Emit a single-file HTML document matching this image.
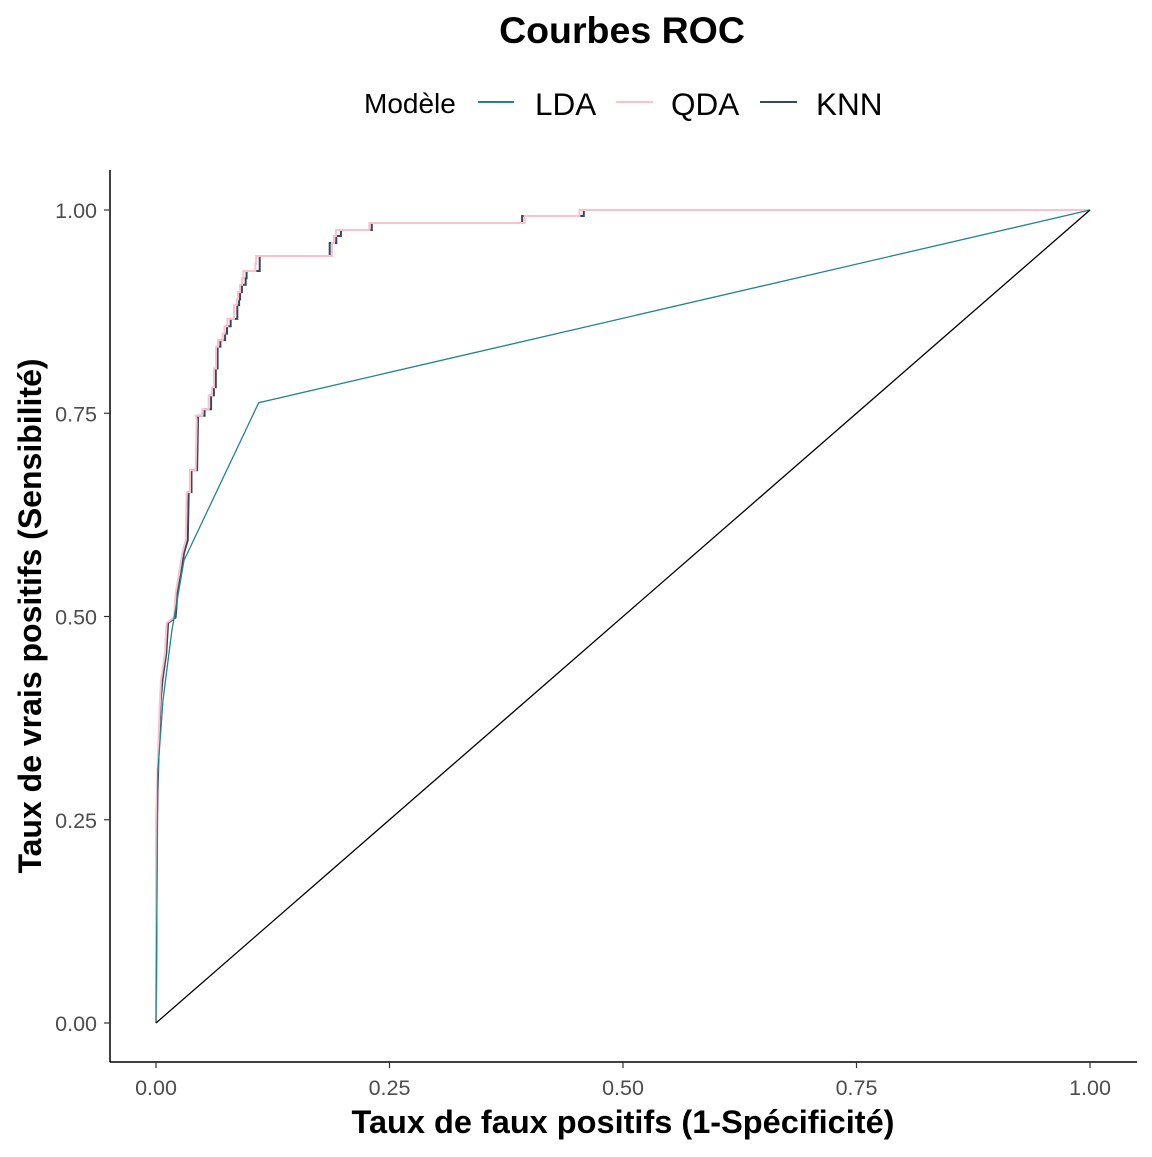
<!DOCTYPE html>
<html><head><meta charset="utf-8"><style>
body{margin:0;background:#fff}
svg text{font-family:"Liberation Sans",Arial,sans-serif}
</style></head><body>
<svg width="1152" height="1152" viewBox="0 0 1152 1152" xmlns="http://www.w3.org/2000/svg">
<rect width="1152" height="1152" fill="#fff"/>
<text x="622" y="43" text-anchor="middle" font-size="37.5" font-weight="bold">Courbes ROC</text>
<g>
<text x="364" y="113" font-size="28">Modèle</text>
<line x1="478" y1="102" x2="514" y2="102" stroke="#21858C" stroke-width="2"/>
<text x="535" y="115" font-size="31.5">LDA</text>
<line x1="616" y1="102" x2="653" y2="102" stroke="#FFC0CB" stroke-width="2"/>
<text x="671" y="115" font-size="31.5">QDA</text>
<line x1="760" y1="102" x2="797" y2="102" stroke="#34495E" stroke-width="2"/>
<text x="816" y="115" font-size="31.5">KNN</text>
</g>
<g id="plot"></g>
<text x="623" y="1133" text-anchor="middle" font-size="32.5" font-weight="bold">Taux de faux positifs (1-Spécificité)</text>
<text transform="translate(41,616) rotate(-90)" text-anchor="middle" font-size="32" font-weight="bold">Taux de vrais positifs (Sensibilité)</text>
</svg>
<script>
const xTicks=[0,0.25,0.5,0.75,1];
const xTickLabels=["0.00","0.25","0.50","0.75","1.00"];
const yTicks=[0,0.25,0.5,0.75,1];
const yTickLabels=["0.00","0.25","0.50","0.75","1.00"];
const ldaX=[0,0.002,0.0075,0.017,0.030,0.110,1];
const ldaY=[0,0.311,0.397,0.483,0.569,0.763,1];
const qdaX=[0,0,0.0014,0.0025,0.0043,0.0054,0.0096,0.0115,0.0193,0.0211,0.0246,0.0282,0.0318,0.0329,0.0364,0.0364,0.0425,0.0436,0.0425,0.0496,0.0496,0.0564,0.0564,0.060,0.060,0.0621,0.0621,0.0642,0.0642,0.0664,0.0664,0.0714,0.0714,0.0735,0.0735,0.0764,0.0764,0.0835,0.0835,0.0864,0.0864,0.0878,0.0878,0.0899,0.0899,0.0921,0.0921,0.0935,0.0935,0.1064,0.1064,0.1071,0.1071,0.1884,0.1884,0.1906,0.1906,0.1927,0.1927,0.2284,0.2284,0.3947,0.3947,0.4533,0.4533,1];
const qdaY=[0,0.25,0.299,0.339,0.397,0.422,0.455,0.492,0.499,0.529,0.553,0.578,0.594,0.653,0.653,0.680,0.680,0.742,0.747,0.747,0.755,0.755,0.772,0.772,0.782,0.782,0.805,0.805,0.832,0.832,0.840,0.840,0.848,0.848,0.857,0.857,0.866,0.866,0.883,0.883,0.890,0.890,0.899,0.899,0.908,0.908,0.916,0.916,0.925,0.925,0.934,0.934,0.9434,0.9434,0.9594,0.9594,0.968,0.968,0.9754,0.9754,0.984,0.984,0.9926,0.9926,1.0,1];
const knnX=[0,0.001,0.002,0.003,0.005,0.007,0.011,0.013,0.021,0.023,0.027,0.030,0.034,0.035,0.038,0.038,0.044,0.045,0.045,0.052,0.052,0.059,0.059,0.062,0.062,0.064,0.064,0.066,0.066,0.069,0.069,0.074,0.074,0.076,0.076,0.080,0.080,0.087,0.087,0.089,0.089,0.090,0.090,0.092,0.092,0.096,0.096,0.097,0.097,0.111,0.111,0.111,0.111,0.186,0.186,0.193,0.193,0.198,0.198,0.231,0.231,0.392,0.392,0.458,0.458,1];
const knnY=qdaY.slice();
const diagX=[0,1];
const diagY=[0,1];
const L=156,R=1090,B=1023,T=210;
const sx=v=>L+v*(R-L), sy=v=>B-v*(B-T);
const NS='http://www.w3.org/2000/svg';
const g=document.getElementById('plot');
function mk(t,a){const e=document.createElementNS(NS,t);for(const k in a)e.setAttribute(k,a[k]);g.appendChild(e);return e;}
let e;
e=mk('line',{x1:110,y1:170,x2:110,y2:1062,stroke:'#000','stroke-width':1.5});


e=mk('line',{x1:110,y1:1062,x2:1137,y2:1062,stroke:'#000','stroke-width':1.5});


xTicks.forEach((v,i)=>{
 e=mk('line',{x1:sx(v),y1:1062,x2:sx(v),y2:1068,stroke:'#333','stroke-width':1.2});
 
 
 e=mk('text',{x:sx(v),y:1095,'text-anchor':'middle','font-size':21.5,fill:'#4d4d4d'});
 e.textContent=xTickLabels[i];
 
 
});
yTicks.forEach((v,i)=>{
 e=mk('line',{x1:104,y1:sy(v),x2:110,y2:sy(v),stroke:'#333','stroke-width':1.2});
 
 
 e=mk('text',{x:97,y:sy(v)+8,'text-anchor':'end','font-size':21.5,fill:'#4d4d4d'});
 e.textContent=yTickLabels[i];
 
 
});
function line(xs,ys,col,w,name){
 const d=xs.map((x,i)=>(i?'L':'M')+sx(x).toFixed(1)+','+sy(ys[i]).toFixed(1)).join('');
 const p=mk('path',{d:d,fill:'none',stroke:col,'stroke-width':w});
 
 
}
line(knnX,knnY,'#34495E',2,'knn-curve');
line(qdaX,qdaY,'#FFC0CB',2,'qda-curve');
line(ldaX,ldaY,'#21858C',1.3,'lda-curve');
line(diagX,diagY,'#000',1.3,'diagonal-reference-line');
</script>
</body></html>
